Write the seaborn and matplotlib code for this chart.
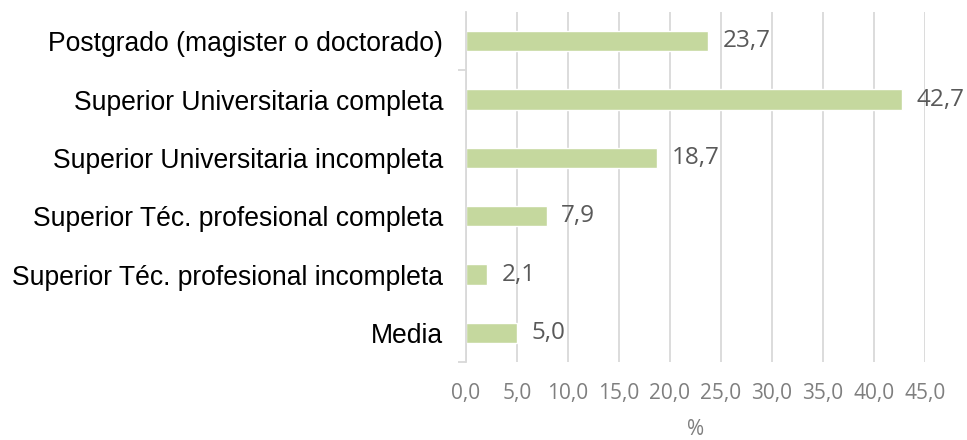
import matplotlib
matplotlib.use("Agg")
import matplotlib.pyplot as plt
import seaborn as sns
import pandas as pd
from matplotlib.ticker import FixedLocator

categories = [
    "Postgrado (magister o doctorado)",
    "Superior Universitaria completa",
    "Superior Universitaria incompleta",
    "Superior Téc. profesional completa",
    "Superior Téc. profesional incompleta",
    "Media",
]
values = [23.7, 42.7, 18.7, 7.9, 2.1, 5.0]
xticks = [0, 5, 10, 15, 20, 25, 30, 35, 40, 45]

df = pd.DataFrame({"cat": categories, "val": values})

sns.set_theme(style="white")
plt.rcParams["font.family"] = ["Liberation Sans", "DejaVu Sans"]

fig = plt.figure(figsize=(9.67, 4.4), dpi=100)
ax = fig.add_axes([466/967, 1-362/440, (925-466)/967, 350/440])

sns.barplot(data=df, x="val", y="cat", color="#C5D89E", width=0.35,
            saturation=1, ax=ax, orient="h")

ax.set_xlim(0, 45)
ax.set_ylim(5.5, -0.5)
ax.set_xticks(xticks)
ax.set_xticklabels([f"{t:.1f}".replace(".", ",") for t in xticks],
                   color="#7f7f7f", fontsize=15, family="Open Sans")
ax.xaxis.grid(True, color="#d9d9d9", linewidth=1.3)
ax.set_axisbelow(True)
for s in ["top", "right", "bottom"]:
    ax.spines[s].set_visible(False)
ax.spines["left"].set_color("#d9d9d9")
ax.spines["left"].set_linewidth(1.3)
ax.tick_params(axis="x", length=0, pad=15)
ax.tick_params(axis="y", length=0, pad=16.5, labelsize=19.1, labelcolor="#000000")
ax.yaxis.set_minor_locator(FixedLocator([0.5, 3.0, 5.5]))
ax.tick_params(axis="y", which="minor", length=6, color="#d9d9d9", width=1.3, left=True)

ax.set_xlabel("%", color="#7f7f7f", fontsize=15, family="Open Sans", labelpad=11)
ax.set_ylabel("")

for i, v in enumerate(values):
    ax.text(v + 1.45, i, f"{v:.1f}".replace(".", ","), va="center", ha="left",
            color="#595959", fontsize=17.5, family="Open Sans")

fig.savefig("out.png", dpi=100)
